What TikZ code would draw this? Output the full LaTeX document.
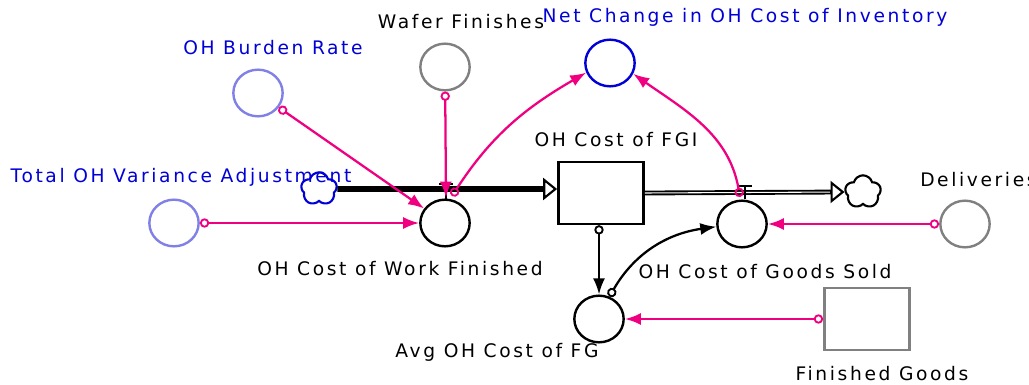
\documentclass[tikz,border=0pt]{standalone}
\usepackage{fontspec}
\setmainfont{DejaVu Sans}[LetterSpace=14]
\usetikzlibrary{shapes.geometric, shapes.symbols, arrows.meta, positioning}

\definecolor{linkpink}{RGB}{240,0,128}
\definecolor{varblue}{RGB}{0,0,215}
\definecolor{lightvar}{RGB}{128,128,230}
\definecolor{ghost}{RGB}{128,128,128}

\begin{document}
\begin{tikzpicture}[
    x=0.75pt, y=0.75pt,
    aux/.style={ellipse, draw, line width=1.8pt, minimum width=37pt, minimum height=35pt, inner sep=0pt},
    level/.style={rectangle, draw, line width=1.8pt, minimum width=64pt, minimum height=46.5pt, inner sep=0pt},
    sink/.style={cloud, cloud puffs=5, aspect=1, draw, line width=1.6pt, minimum width=27pt, minimum height=25pt, inner sep=0pt},
    lbl/.style={font=\fontsize{14}{16}\selectfont, inner sep=0pt},
    plink/.style={linkpink, line width=1.7pt, {Circle[open, length=7pt, width=7pt, line width=1.4pt]}-{Latex[length=12pt, width=9pt]}},
    blink/.style={plink, black},
    inflow/.style={line width=4.2pt, -{Triangle[open, length=10.5pt, width=16.5pt, line width=1.6pt]}},
    outflow/.style={line width=1.4pt, double, double distance=0.8pt},
    fhead/.style={line width=1.6pt, -{Triangle[open, length=10.5pt, width=16.5pt, line width=1.6pt]}},
    valve/.style={line width=1.7pt}
]
    \useasboundingbox (0,0) rectangle (1029,-385);

    % variables
    \node[aux, draw=lightvar] (burden) at (258,-93) {};
    \node[aux, draw=ghost] (wafer) at (445,-67) {};
    \node[aux, draw=varblue] (net) at (610,-63) {};
    \node[aux, draw=lightvar] (tova) at (174,-223) {};
    \node[aux] (owf) at (445,-223) {};
    \node[aux] (cogs) at (742,-224) {};
    \node[aux, draw=ghost] (deliv) at (965,-224) {};
    \node[aux] (avg) at (599,-319) {};

    % stocks and clouds
    \node[level] (stock) at (601,-193) {};
    \node[level, draw=ghost] (fg) at (867,-319) {};
    \node[sink, draw=varblue] (cin) at (319,-189) {};
    \node[sink] (cout) at (863,-192) {};

    % names
    \node[lbl] (lwafer) at (461,-22) {Wafer Finishes};
    \node[lbl, text=varblue] (lnet) at (745,-17) {Net Change in OH Cost of Inventory};
    \node[lbl, text=varblue] (lburden) at (273,-48) {OH Burden Rate};
    \node[lbl, text=varblue] (ltova) at (181,-177) {Total OH Variance Adjustment};
    \node[lbl] (lstock) at (616,-140) {OH Cost of FGI};
    \node[lbl] (lowf) at (400,-269) {OH Cost of Work Finished};
    \node[lbl] (lcogs) at (765,-272) {OH Cost of Goods Sold};
    \node[lbl] (lavg) at (497,-352) {Avg OH Cost of FG};
    \node[lbl] (lfg) at (882,-374) {Finished Goods};
    \node[lbl, anchor=west] (ldeliv) at (920,-180) {Deliveries};

    % flows
    \draw[inflow] (cin) -- (cin -| stock.west);
    \draw[outflow, shorten >=10pt] (stock.east) -- (cout.west);
    \draw[fhead] ([xshift=-11pt]cout.west) -- (cout.west);

    % valves
    \coordinate (v1) at (446,-191);
    \coordinate (v2) at (745,-193);
    \draw[valve] (v1) ++(-7,7) -- ++(14,0) (v1) ++(0,7) -- ++(0,-15);
    \draw[valve] (v2) ++(-7,7) -- ++(14,0) (v2) ++(0,7) -- ++(0,-13);
    \coordinate (v1o) at (452,-196);
    \coordinate (v2o) at (740,-197);

    % links
    \draw[plink] (burden) -- (owf);
    \draw[plink] (wafer) -- ([yshift=-5pt]v1);
    \draw[plink] (tova) -- (owf);
    \draw[plink] (v1o) to[out=57, in=-150] (net.-158);
    \draw[plink] (v2o) to[out=100, in=-35] (net.-25);
    \draw[plink] (deliv) -- (cogs);
    \draw[plink] (fg) -- (avg);
    \draw[blink] (avg |- stock.south) -- (avg);
    \draw[blink] (avg.65) to[out=60, in=188] (cogs.186);
\end{tikzpicture}
\end{document}
